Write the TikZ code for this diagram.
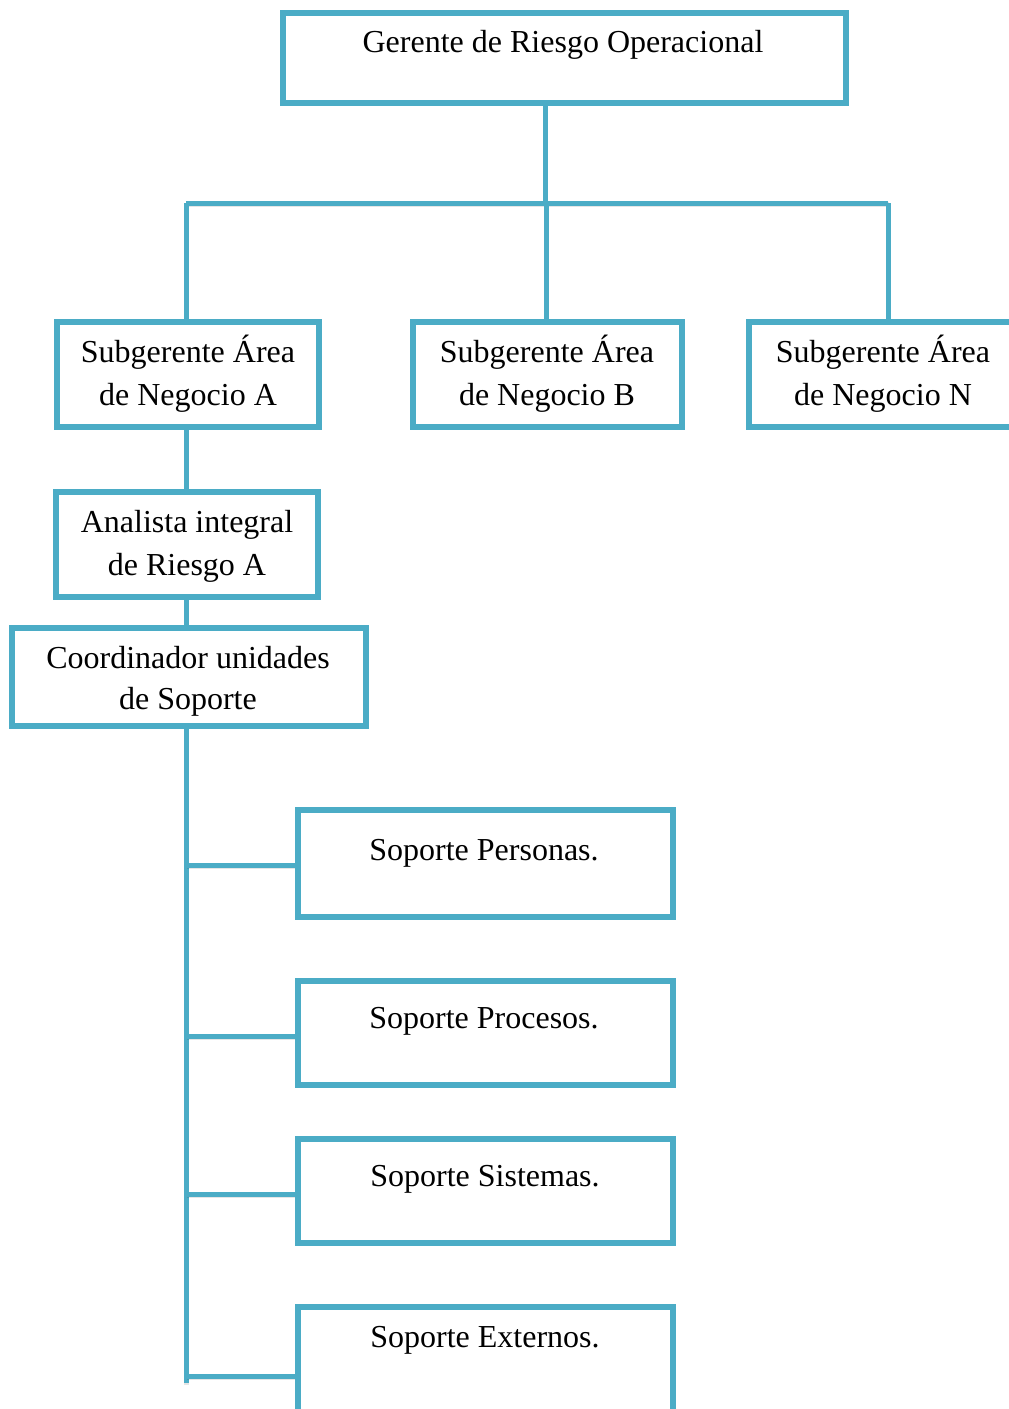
\documentclass[tikz,border=0pt]{standalone}
\usepackage{fontspec}
\setmainfont{Liberation Serif}
\definecolor{orgblue}{HTML}{4BACC6}
\begin{document}
\begin{tikzpicture}[x=1pt,y=-1pt,
  orgbox/.style={draw=orgblue, line width=4pt, fill=white, inner sep=0pt},
  conn/.style={draw=orgblue, line width=5pt,
    preaction={draw=black, opacity=0.10, line width=5pt,
      transform canvas={shift={(0.8pt,-1.8pt)}}}},
  lbl/.style={anchor=base, align=center, inner sep=0pt,
    font=\fontsize{32}{43}\selectfont}]
\useasboundingbox (0,0) rectangle (1009,1409);
\clip (0,0) rectangle (1009,1409);

% connector junction points
\coordinate (busL) at (186,203);
\coordinate (busM) at (545,203);
\coordinate (busB) at (546,203);
\coordinate (busR) at (888,203);
\coordinate (spine) at (186,0);
\coordinate (spineEnd) at (186,1383);
\coordinate (br1) at (186,865);
\coordinate (br2) at (186,1036);
\coordinate (br3) at (186,1194);
\coordinate (br4) at (186,1376);

% boxes
\node[orgbox, minimum width=561, minimum height=88] (ger) at (564,57.5) {};
\node[orgbox, minimum width=260, minimum height=103] (suba) at (187.5,374) {};
\node[orgbox, minimum width=267, minimum height=103] (subb) at (547,374) {};
\node[orgbox, minimum width=280, minimum height=103] (subn) at (889.5,374) {};
\node[orgbox, minimum width=260, minimum height=103] (ana) at (186.5,544) {};
\node[orgbox, minimum width=352, minimum height=96] (coord) at (188.5,676.5) {};
\node[orgbox, minimum width=373, minimum height=105] (sper) at (485,863) {};
\node[orgbox, minimum width=373, minimum height=102] (spro) at (485,1032.5) {};
\node[orgbox, minimum width=373, minimum height=102] (ssis) at (485,1190.5) {};
\node[orgbox, minimum width=373, minimum height=132] (sext) at (485,1373.5) {};

% connectors
\path[conn] (ger.south -| busM) -- (busM);
\path[conn] (busL) -- (busR);
\path[conn] (busL) -- (suba.north -| busL);
\path[conn] (busB) -- (subb.north -| busB);
\path[conn] (busR) -- (subn.north -| busR);
\path[conn] (suba.south -| spine) -- (ana.north -| spine);
\path[conn] (ana.south -| spine) -- (coord.north -| spine);
\path[conn] (coord.south -| spine) -- (spineEnd);
\path[conn] (br1) -- (br1 -| sper.west);
\path[conn] (br2) -- (br2 -| spro.west);
\path[conn] (br3) -- (br3 -| ssis.west);
\path[conn] (br4) -- (br4 -| sext.west);

% box outlines drawn again over the connector ends
\foreach \b in {ger,suba,subb,subn,ana,coord,sper,spro,ssis,sext}
  \draw[orgblue, line width=4pt] (\b.south west) rectangle (\b.north east);

% labels
\node[lbl] (tger) at (563,52) {Gerente de Riesgo Operacional};
\node[lbl] (tsuba) at (188,405) {Subgerente Área\\de Negocio A};
\node[lbl] (tsubb) at (547,405) {Subgerente Área\\de Negocio B};
\node[lbl] (tsubn) at (883,405) {Subgerente Área\\de Negocio N};
\node[lbl] (tana) at (187,575) {Analista integral\\de Riesgo A};
\node[lbl, font=\fontsize{32}{41}\selectfont] (tcoord) at (188,709) {Coordinador unidades\\de Soporte};
\node[lbl] (tsper) at (484,860) {Soporte Personas.};
\node[lbl] (tspro) at (484,1028) {Soporte Procesos.};
\node[lbl] (tssis) at (485,1186) {Soporte Sistemas.};
\node[lbl] (tsext) at (485,1347) {Soporte Externos.};
\end{tikzpicture}
\end{document}
